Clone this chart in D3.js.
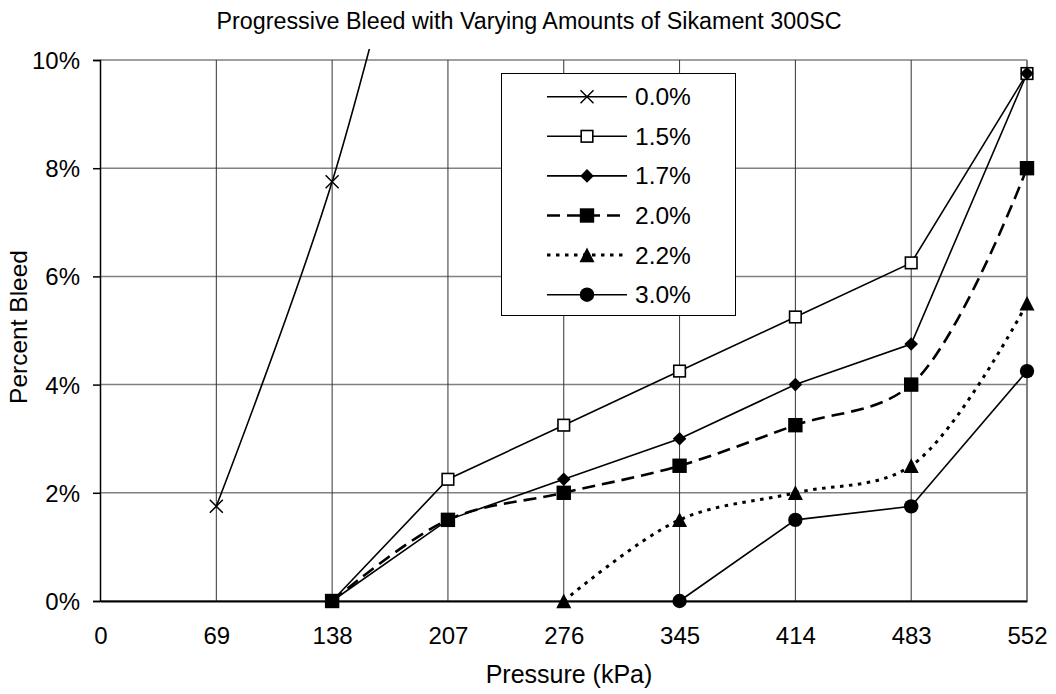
<!DOCTYPE html>
<html>
<head>
<meta charset="utf-8">
<script src="https://cdn.jsdelivr.net/npm/d3@7"></script>
<style>
  html, body { margin: 0; padding: 0; background: #fff; }
  svg { display: block; font-family: "Liberation Sans", Arial, sans-serif; }
</style>
</head>
<body>
<svg id="chart" width="1056" height="694"></svg>
<script>
// ---- data ----
const pressures = [0, 69, 138, 207, 276, 345, 414, 483, 552];
const xTickLabels = ["0", "69", "138", "207", "276", "345", "414", "483", "552"];
const yTicks = [0, 2, 4, 6, 8, 10];
const seriesNames = ["0.0%", "1.5%", "1.7%", "2.0%", "2.2%", "3.0%"];
const s00 = [null, 1.75, 7.75, 16.0, null, null, null, null, null];
const s15 = [null, null, 0, 2.25, 3.25, 4.25, 5.25, 6.25, 9.75];
const s17 = [null, null, 0, 1.5, 2.25, 3.0, 4.0, 4.75, 9.75];
const s20 = [null, null, 0, 1.5, 2.0, 2.5, 3.25, 4.0, 8.0];
const s22 = [null, null, null, null, 0, 1.5, 2.0, 2.5, 5.5];
const s30 = [null, null, null, null, null, 0, 1.5, 1.75, 4.25];
const seriesValues = [s00, s15, s17, s20, s22, s30];
const titleText = "Progressive Bleed with Varying Amounts of Sikament 300SC";
const xTitle = "Pressure (kPa)";
const yTitle = "Percent Bleed";

// ---- styles ----
const styles = [
  { marker: "x", smooth: true, dash: null, width: 1.6 },
  { marker: "openSquare", smooth: false, dash: null, width: 1.6 },
  { marker: "diamond", smooth: false, dash: null, width: 1.6 },
  { marker: "square", smooth: true, dash: "13,7", width: 2.6 },
  { marker: "triangle", smooth: true, dash: "3.5,5.5", width: 3 },
  { marker: "circle", smooth: false, dash: null, width: 1.6 }
];

const svg = d3.select("#chart");
const L = 100, R = 1027, T = 60, B = 601;
const x = d3.scaleLinear().domain([0, 552]).range([L + 0.5, R]);
const y = d3.scaleLinear().domain([0, 10]).range([B, T]);

// title
svg.append("text").attr("x", 529).attr("y", 29).attr("text-anchor", "middle")
  .attr("font-size", 23.3).attr("fill", "#000").text(titleText);

// gridlines
const grid = svg.append("g");
grid.selectAll("line.h").data(yTicks).enter().append("line")
  .attr("x1", L).attr("x2", R).attr("y1", d => y(d)).attr("y2", d => y(d))
  .attr("stroke", "#808080").attr("stroke-width", 1.5);
grid.selectAll("line.v").data(pressures.slice(1, -1)).enter().append("line")
  .attr("x1", d => x(d)).attr("x2", d => x(d)).attr("y1", T).attr("y2", B)
  .attr("stroke", "#333").attr("stroke-width", 1);
// right border
svg.append("line").attr("x1", R).attr("x2", R).attr("y1", T).attr("y2", B)
  .attr("stroke", "#808080").attr("stroke-width", 2);

// axes
const yAxis = d3.axisLeft(y).tickValues(yTicks).tickFormat(d => d + "%").tickSize(7).tickPadding(13);
const gy = svg.append("g").attr("transform", `translate(${L},0)`).call(yAxis);
gy.select(".domain").attr("stroke", "#000").attr("stroke-width", 1.5);
gy.selectAll(".tick line").attr("stroke", "#000").attr("stroke-width", 1.5);
gy.selectAll(".tick text").attr("font-size", 24).attr("font-family", "Liberation Sans, Arial, sans-serif")
  .attr("fill", "#000").attr("dy", "0.35em");

const xAxis = d3.axisBottom(x).tickValues(pressures).tickFormat((d, i) => xTickLabels[i]).tickSize(0).tickPadding(26);
const gx = svg.append("g").attr("transform", `translate(0,${B})`).call(xAxis);
gx.select(".domain").attr("stroke", "#000").attr("stroke-width", 2);
gx.selectAll(".tick text").attr("font-size", 24).attr("font-family", "Liberation Sans, Arial, sans-serif")
  .attr("fill", "#000");

// axis titles
svg.append("text").attr("x", 569).attr("y", 683).attr("text-anchor", "middle")
  .attr("font-size", 25).attr("fill", "#000").text(xTitle);
svg.append("text").attr("transform", "translate(27,327) rotate(-90)").attr("text-anchor", "middle")
  .attr("font-size", 24.5).attr("fill", "#000").text(yTitle);

// clip
svg.append("clipPath").attr("id", "plotclip").append("rect")
  .attr("x", L).attr("y", 49).attr("width", R - L + 10).attr("height", B - 49 + 10);

const plot = svg.append("g").attr("clip-path", "url(#plotclip)");

function drawMarker(g, type, cx, cy, scale) {
  const s = scale || 1;
  if (type === "x") {
    const h = 6.5 * s;
    g.append("path").attr("d", `M${cx - h},${cy - h}L${cx + h},${cy + h}M${cx - h},${cy + h}L${cx + h},${cy - h}`)
      .attr("stroke", "#000").attr("stroke-width", 1.5).attr("fill", "none");
  } else if (type === "openSquare") {
    const h = 5.8 * s;
    g.append("rect").attr("x", cx - h).attr("y", cy - h).attr("width", 2 * h).attr("height", 2 * h)
      .attr("fill", "#fff").attr("stroke", "#000").attr("stroke-width", 1.6);
  } else if (type === "diamond") {
    const h = 6.8 * s;
    g.append("path").attr("d", `M${cx},${cy - h}L${cx + h},${cy}L${cx},${cy + h}L${cx - h},${cy}Z`).attr("fill", "#000");
  } else if (type === "square") {
    const h = 7.2 * s;
    g.append("rect").attr("x", cx - h).attr("y", cy - h).attr("width", 2 * h).attr("height", 2 * h).attr("fill", "#000");
  } else if (type === "triangle") {
    const h = 7.5 * s;
    g.append("path").attr("d", `M${cx},${cy - h}L${cx + h},${cy + h * 0.95}L${cx - h},${cy + h * 0.95}Z`).attr("fill", "#000");
  } else if (type === "circle") {
    g.append("circle").attr("cx", cx).attr("cy", cy).attr("r", 7.2 * s).attr("fill", "#000");
  }
}

// lines
seriesValues.forEach((vals, si) => {
  const st = styles[si];
  const pts = pressures.map((p, i) => ({ p, v: vals[i] })).filter(d => d.v !== null);
  const line = d3.line().x(d => x(d.p)).y(d => y(d.v))
    .curve(st.smooth ? d3.curveCatmullRom.alpha(0.5) : d3.curveLinear);
  plot.append("path").datum(pts).attr("d", line).attr("fill", "none")
    .attr("stroke", "#000").attr("stroke-width", st.width)
    .attr("stroke-dasharray", st.dash);
});
// markers
const mg = svg.append("g");
seriesValues.forEach((vals, si) => {
  const st = styles[si];
  const pts = pressures.map((p, i) => ({ p, v: vals[i] })).filter(d => d.v !== null && d.v <= 10);
  pts.forEach(d => drawMarker(mg, st.marker, x(d.p), y(d.v), 1));
});

// legend
const lg = svg.append("g");
lg.append("rect").attr("x", 501.5).attr("y", 73.5).attr("width", 234).attr("height", 242)
  .attr("fill", "#fff").attr("stroke", "#000").attr("stroke-width", 1);
seriesNames.forEach((name, i) => {
  const st = styles[i];
  const ry = 96.7 + i * 39.6;
  lg.append("line").attr("x1", 547).attr("x2", 627).attr("y1", ry).attr("y2", ry)
    .attr("stroke", "#000").attr("stroke-width", st.width).attr("stroke-dasharray", st.dash);
  drawMarker(lg, st.marker, 587, ry, 1);
  lg.append("text").attr("x", 635).attr("y", ry).attr("dy", "0.35em")
    .attr("font-size", 24.5).attr("fill", "#000").text(name);
});
</script>
</body>
</html>
